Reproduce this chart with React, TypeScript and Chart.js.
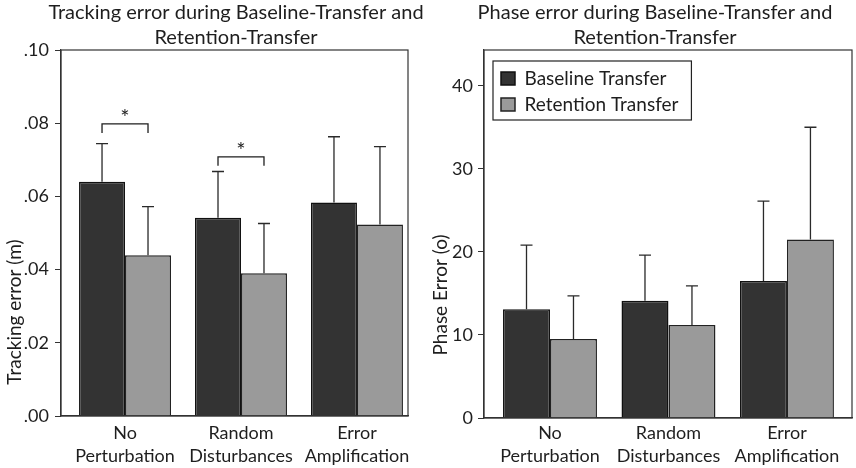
import React, { useEffect, useRef } from 'react';
import { Chart, registerables } from 'chart.js';

Chart.register(...registerables);

const FONT = 'Lato';
const DARK = '#333333';
const LIGHT = '#9a9a9a';
const INK = '#1e1e1e';

// data
const categories = [['No', 'Perturbation'], ['Random', 'Disturbances'], ['Error', 'Amplification']];
const seriesNames = ['Baseline Transfer', 'Retention Transfer'];

const trackBaseline = [0.064, 0.0542, 0.0583];
const trackRetention = [0.0439, 0.039, 0.0523];
const trackBaselineErr = [0.0104, 0.0126, 0.018];
const trackRetentionErr = [0.0133, 0.0136, 0.0213];
const sigCategories = [0, 1];
const sigLevels = [0.0798, 0.0708];

const phaseBaseline = [13.1, 14.1, 16.5];
const phaseRetention = [9.5, 11.2, 21.5];
const phaseBaselineErr = [7.7, 5.5, 9.6];
const phaseRetentionErr = [5.2, 4.7, 13.5];

const errorBars = (errors: number[][]) => ({
	id: 'errorBars',
	afterDatasetsDraw(chart: any) {
		const { ctx, scales } = chart;
		ctx.save();
		ctx.strokeStyle = '#2a2a2a';
		ctx.lineWidth = 1.3;
		chart.data.datasets.forEach((ds: any, di: number) => {
			chart.getDatasetMeta(di).data.forEach((bar: any, i: number) => {
				const top = scales.y.getPixelForValue(ds.data[i] + errors[di][i]);
				ctx.beginPath();
				ctx.moveTo(bar.x, bar.y);
				ctx.lineTo(bar.x, top);
				ctx.moveTo(bar.x - 6, top);
				ctx.lineTo(bar.x + 6, top);
				ctx.stroke();
			});
		});
		ctx.restore();
	},
});

const sigBrackets = (cats: number[], levels: number[]) => ({
	id: 'sigBrackets',
	afterDatasetsDraw(chart: any) {
		const { ctx, scales } = chart;
		const a = chart.getDatasetMeta(0).data;
		const b = chart.getDatasetMeta(1).data;
		ctx.save();
		ctx.strokeStyle = INK;
		ctx.lineWidth = 1.3;
		cats.forEach((c, k) => {
			const y = scales.y.getPixelForValue(levels[k]);
			ctx.beginPath();
			ctx.moveTo(a[c].x, y + 9);
			ctx.lineTo(a[c].x, y);
			ctx.lineTo(b[c].x, y);
			ctx.lineTo(b[c].x, y + 9);
			ctx.stroke();
			ctx.fillStyle = INK;
			ctx.font = `22px ${FONT}`;
			ctx.textAlign = 'center';
			ctx.textBaseline = 'middle';
			ctx.fillText('*', (a[c].x + b[c].x) / 2, y - 6);
		});
		ctx.restore();
	},
});

const frame = {
	id: 'frame',
	afterDraw(chart: any) {
		const { ctx, chartArea } = chart;
		ctx.save();
		ctx.strokeStyle = '#333';
		ctx.lineWidth = 1.2;
		ctx.strokeRect(chartArea.left, chartArea.top, chartArea.right - chartArea.left, chartArea.bottom - chartArea.top);
		ctx.restore();
	},
};

// the title is wider than the plot in the reference: widen its box so it is not squeezed
const titleBox = (dx: number, extra: number) => ({
	id: 'titleBox',
	afterLayout(chart: any) {
		const t = chart.titleBlock;
		if (!t) return;
		t.left = t.left - extra + dx;
		t.right = t.right + extra + dx;
		t.width = t.right - t.left;
	},
});

// y axis title sits below the middle of the axis in the reference
const yTitleShift = (dy: number) => ({
	id: 'yTitleShift',
	afterLayout(chart: any) {
		const s = chart.scales.y;
		if (!s || s.__shifted) return;
		const base = Object.getPrototypeOf(s).drawTitle;
		s.drawTitle = function () {
			this.ctx.save();
			this.ctx.translate(0, dy);
			base.call(this);
			this.ctx.restore();
		};
		s.__shifted = true;
	},
});

// legend sits inside the plot with a box around it
const LEGEND_FONT = 19;
const LEGEND_PAD = 7;
const legendBox = {
	id: 'legendBox',
	afterLayout(chart: any) {
		const lg = chart.legend;
		if (!lg || !lg.options.display) return;
		lg.left = chart.chartArea.left + 10;
		lg.top = chart.chartArea.top + 12;
		lg.right = lg.left + lg.width;
		lg.bottom = lg.top + lg.height;
	},
	afterDraw(chart: any) {
		const lg = chart.legend;
		if (!lg || !lg.options.display) return;
		const { ctx } = chart;
		const n = lg.legendItems.length;
		const x0 = lg.left + LEGEND_PAD - 8;
		const y0 = lg.top + LEGEND_PAD - 8;
		const w = lg.columnSizes[0].width + 8 + 13;
		const h = n * LEGEND_FONT + (n - 1) * LEGEND_PAD + 14;
		ctx.save();
		ctx.strokeStyle = '#222';
		ctx.lineWidth = 1.2;
		ctx.strokeRect(x0, y0, w, h);
		ctx.restore();
	},
};

type PanelProps = {
	left: number;
	width: number;
	title: string[];
	yTitle: string;
	base: number[];
	ret: number[];
	baseErr: number[];
	retErr: number[];
	yMax: number;
	step: number;
	fmt: (v: number) => string;
	padLeft: number;
	padRight: number;
	yWidth: number;
	xHeight: number;
	yTitlePad: number;
	tickPad: number;
	xTickPad: number;
	xMin: number;
	xMax: number;
	legend: boolean;
	extra: any[];
};

const BarPanel: React.FC<PanelProps> = (p) => {
	const ref = useRef<HTMLCanvasElement | null>(null);

	useEffect(() => {
		if (!ref.current) return;
		const chart = new Chart(ref.current, {
			type: 'bar',
			data: {
				labels: categories.map((_, i) => i),
				datasets: [
					{ label: seriesNames[0], data: p.base, backgroundColor: DARK, borderColor: '#111', borderWidth: 1.5 },
					{ label: seriesNames[1], data: p.ret, backgroundColor: LIGHT, borderColor: '#222', borderWidth: 1.5 },
				],
			},
			options: {
				responsive: false,
				animation: false,
				layout: { padding: { left: p.padLeft, right: p.padRight, top: 0, bottom: 0 } },
				datasets: { bar: { barPercentage: 1, categoryPercentage: 0.793 } },
				scales: {
					x: {
						type: 'linear',
						min: p.xMin,
						max: p.xMax,
						offset: false,
						grid: { display: false, drawTicks: false },
						border: { display: true, color: '#333', width: 1.2 },
						ticks: {
							font: { family: FONT, size: 18, lineHeight: 1.25 },
							color: INK,
							padding: p.xTickPad,
							maxRotation: 0,
							autoSkip: false,
							callback: (v: any) => categories[Math.round(Number(v))] || '',
						},
						afterBuildTicks: (s: any) => {
							s.ticks = categories.map((_, i) => ({ value: i }));
						},
						afterFit: (s: any) => { s.height = p.xHeight; },
					},
					y: {
						min: 0,
						max: p.yMax,
						grid: { display: true, drawOnChartArea: false, drawTicks: true, tickLength: 6, color: '#333' },
						border: { display: true, color: '#333', width: 1.2 },
						ticks: { stepSize: p.step, font: { family: FONT, size: 18 }, color: INK, padding: p.tickPad, callback: (v: any) => p.fmt(Number(v)) },
						afterBuildTicks: (s: any) => {
							s.ticks = s.ticks.filter((t: any) => Math.abs(t.value / p.step - Math.round(t.value / p.step)) < 1e-6);
						},
						title: { display: true, text: p.yTitle, font: { family: FONT, size: 19 }, color: INK, padding: { top: p.yTitlePad, bottom: 0 } },
						afterFit: (s: any) => { s.width = p.yWidth; },
					},
				},
				plugins: {
					title: {
						display: true,
						text: p.title,
						fullSize: false,
						font: { family: FONT, size: 20, weight: 'normal', lineHeight: 1.25 },
						color: INK,
						padding: { top: 0, bottom: 0 },
					},
					legend: {
						display: p.legend,
						position: 'chartArea',
						align: 'start',
						labels: { boxWidth: 14, boxHeight: 13, padding: LEGEND_PAD, color: INK, font: { family: FONT, size: LEGEND_FONT } },
					},
					tooltip: { enabled: false },
				},
			},
			plugins: [frame, legendBox, errorBars([p.baseErr, p.retErr]), ...p.extra],
		} as any);

		return () => chart.destroy();
	}, []);

	return (
		<div style={{ position: 'absolute', left: p.left, top: 0, width: p.width, height: 468 }}>
			<canvas ref={ref} width={p.width} height={468} />
		</div>
	);
};

const App: React.FC = () => {
	return (
		<div style={{ position: 'absolute', left: 0, top: 0, width: 856, height: 468, background: '#fff' }}>
			<BarPanel
				left={420}
				width={436}
				title={['Phase error during Baseline-Transfer and', 'Retention-Transfer']}
				yTitle="Phase Error (o)"
				base={phaseBaseline}
				ret={phaseRetention}
				baseErr={phaseBaselineErr}
				retErr={phaseRetentionErr}
				yMax={44.3}
				step={10}
				fmt={(v) => String(Math.round(v))}
				padLeft={5}
				padRight={4}
				yWidth={59}
				xHeight={50}
				yTitlePad={4}
				tickPad={5}
				xTickPad={4}
				xMin={-0.557}
				xMax={2.549}
				legend={true}
				extra={[titleBox(-13, 12), yTitleShift(61)]}
			/>
			<BarPanel
				left={0}
				width={440}
				title={['Tracking error during Baseline-Transfer and', 'Retention-Transfer']}
				yTitle="Tracking error (m)"
				base={trackBaseline}
				ret={trackRetention}
				baseErr={trackBaselineErr}
				retErr={trackRetentionErr}
				yMax={0.1}
				step={0.02}
				fmt={(v) => v.toFixed(2).replace(/^0/, '')}
				padLeft={0}
				padRight={32}
				yWidth={61}
				xHeight={52}
				yTitlePad={3}
				tickPad={6}
				xTickPad={6}
				xMin={-0.552}
				xMax={2.44}
				legend={false}
				extra={[sigBrackets(sigCategories, sigLevels), titleBox(1.5, 30), yTitleShift(79)]}
			/>
		</div>
	);
};

export default App;
